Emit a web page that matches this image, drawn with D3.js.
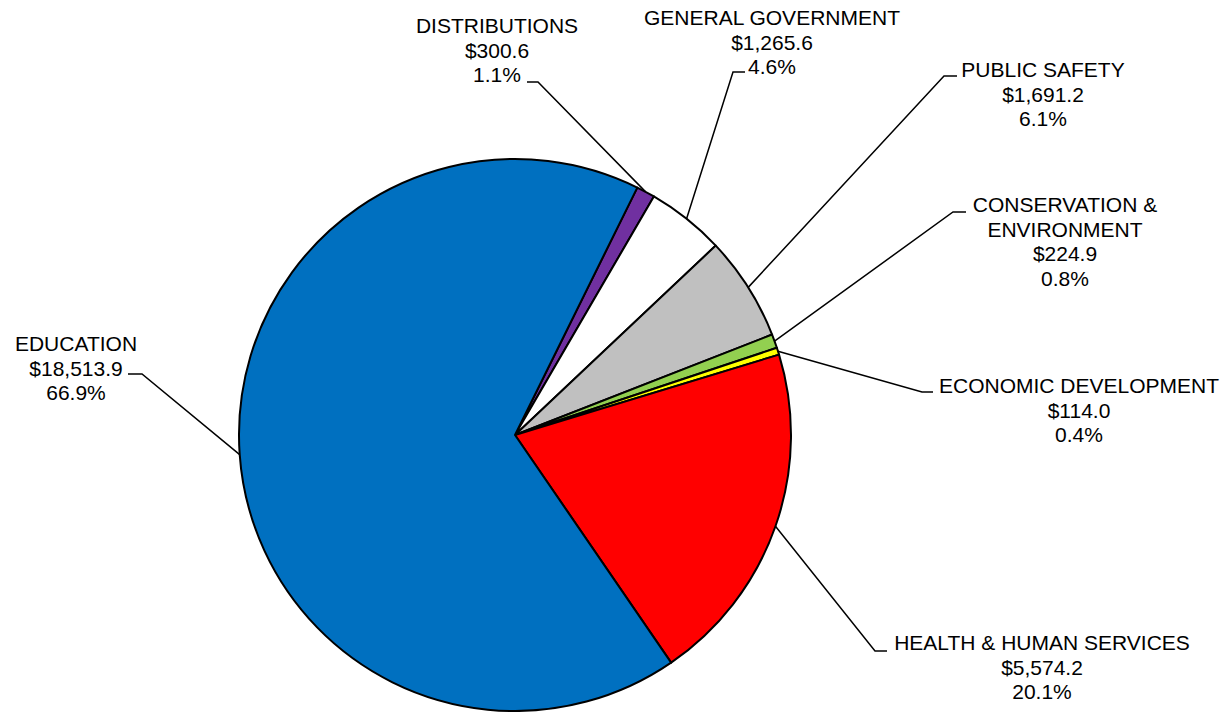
<!DOCTYPE html>
<html>
<head>
<meta charset="utf-8">
<script src="https://cdn.jsdelivr.net/npm/d3@7"></script>
<style>
  html, body { margin: 0; padding: 0; background: #fff; }
  svg { display: block; }
  text { font-family: "Liberation Sans", Arial, sans-serif; font-size: 21px; fill: #000; }
</style>
</head>
<body>
<svg id="chart" width="1226" height="712"></svg>
<script>
// ---- data ----
const categories = ["DISTRIBUTIONS", "GENERAL GOVERNMENT", "PUBLIC SAFETY",
  "CONSERVATION & ENVIRONMENT", "ECONOMIC DEVELOPMENT", "HEALTH & HUMAN SERVICES", "EDUCATION"];
const nameLines = [["DISTRIBUTIONS"], ["GENERAL GOVERNMENT"], ["PUBLIC SAFETY"],
  ["CONSERVATION &", "ENVIRONMENT"], ["ECONOMIC DEVELOPMENT"], ["HEALTH & HUMAN SERVICES"], ["EDUCATION"]];
const values = [300.6, 1265.6, 1691.2, 224.9, 114.0, 5574.2, 18513.9];
const colors = ["#7030A0", "#FFFFFF", "#C0C0C0", "#92D050", "#FFFF00", "#FF0000", "#0070C0"];

// ---- layout (label placement) ----
const cx = 515, cy = 435, r = 276;
const startDeg = 26.3;
const lineH = 24.5;
const labelLayout = [
  { x: 497,  y: 33,  elbow: [538, 82],  end: [527, 82] },
  { x: 772,  y: 25,  elbow: [733, 72],  end: [745, 72] },
  { x: 1043, y: 77,  elbow: [944, 76],  end: [957, 76] },
  { x: 1065, y: 212, elbow: [953, 212], end: [966, 212] },
  { x: 1079, y: 393, elbow: [922, 392], end: [933, 392] },
  { x: 1042, y: 650, elbow: [875, 651], end: [887, 651] },
  { x: 76,   y: 351, elbow: [142, 374], end: [128, 374] }
];

const total = d3.sum(values);
const fmtVal = v => "$" + d3.format(",.1f")(v);
const fmtPct = d3.format(".1%");

const svg = d3.select("#chart");
const g = svg.append("g").attr("transform", `translate(${cx},${cy})`);

const rows = categories.map((c, i) => ({ name: c, value: values[i], i }));
const start = startDeg * Math.PI / 180;
const pie = d3.pie().value(d => d.value).sort(null)
  .startAngle(start).endAngle(start + 2 * Math.PI);
const arcs = pie(rows);
const arc = d3.arc().innerRadius(0).outerRadius(r);
const edge = d3.arc().innerRadius(r).outerRadius(r);

g.selectAll("path.slice").data(arcs).join("path")
  .attr("class", "slice")
  .attr("d", arc)
  .attr("fill", d => colors[d.data.i])
  .attr("stroke", "#000")
  .attr("stroke-width", 2)
  .attr("stroke-linejoin", "round");

// leader lines
const lines = svg.append("g");
arcs.forEach(a => {
  const L = labelLayout[a.data.i];
  const p = edge.centroid(a);
  const pts = [[p[0] + cx, p[1] + cy], L.elbow, L.end];
  lines.append("path")
    .attr("d", d3.line()(pts))
    .attr("fill", "none")
    .attr("stroke", "#000")
    .attr("stroke-width", 1.5);
});

// labels
const labels = svg.append("g");
rows.forEach(d => {
  const L = labelLayout[d.i];
  const txt = nameLines[d.i].concat([fmtVal(d.value), fmtPct(d.value / total)]);
  const t = labels.append("text").attr("text-anchor", "middle");
  txt.forEach((s, k) => {
    t.append("tspan").attr("x", L.x).attr("y", L.y + k * lineH).text(s);
  });
});
</script>
</body>
</html>
